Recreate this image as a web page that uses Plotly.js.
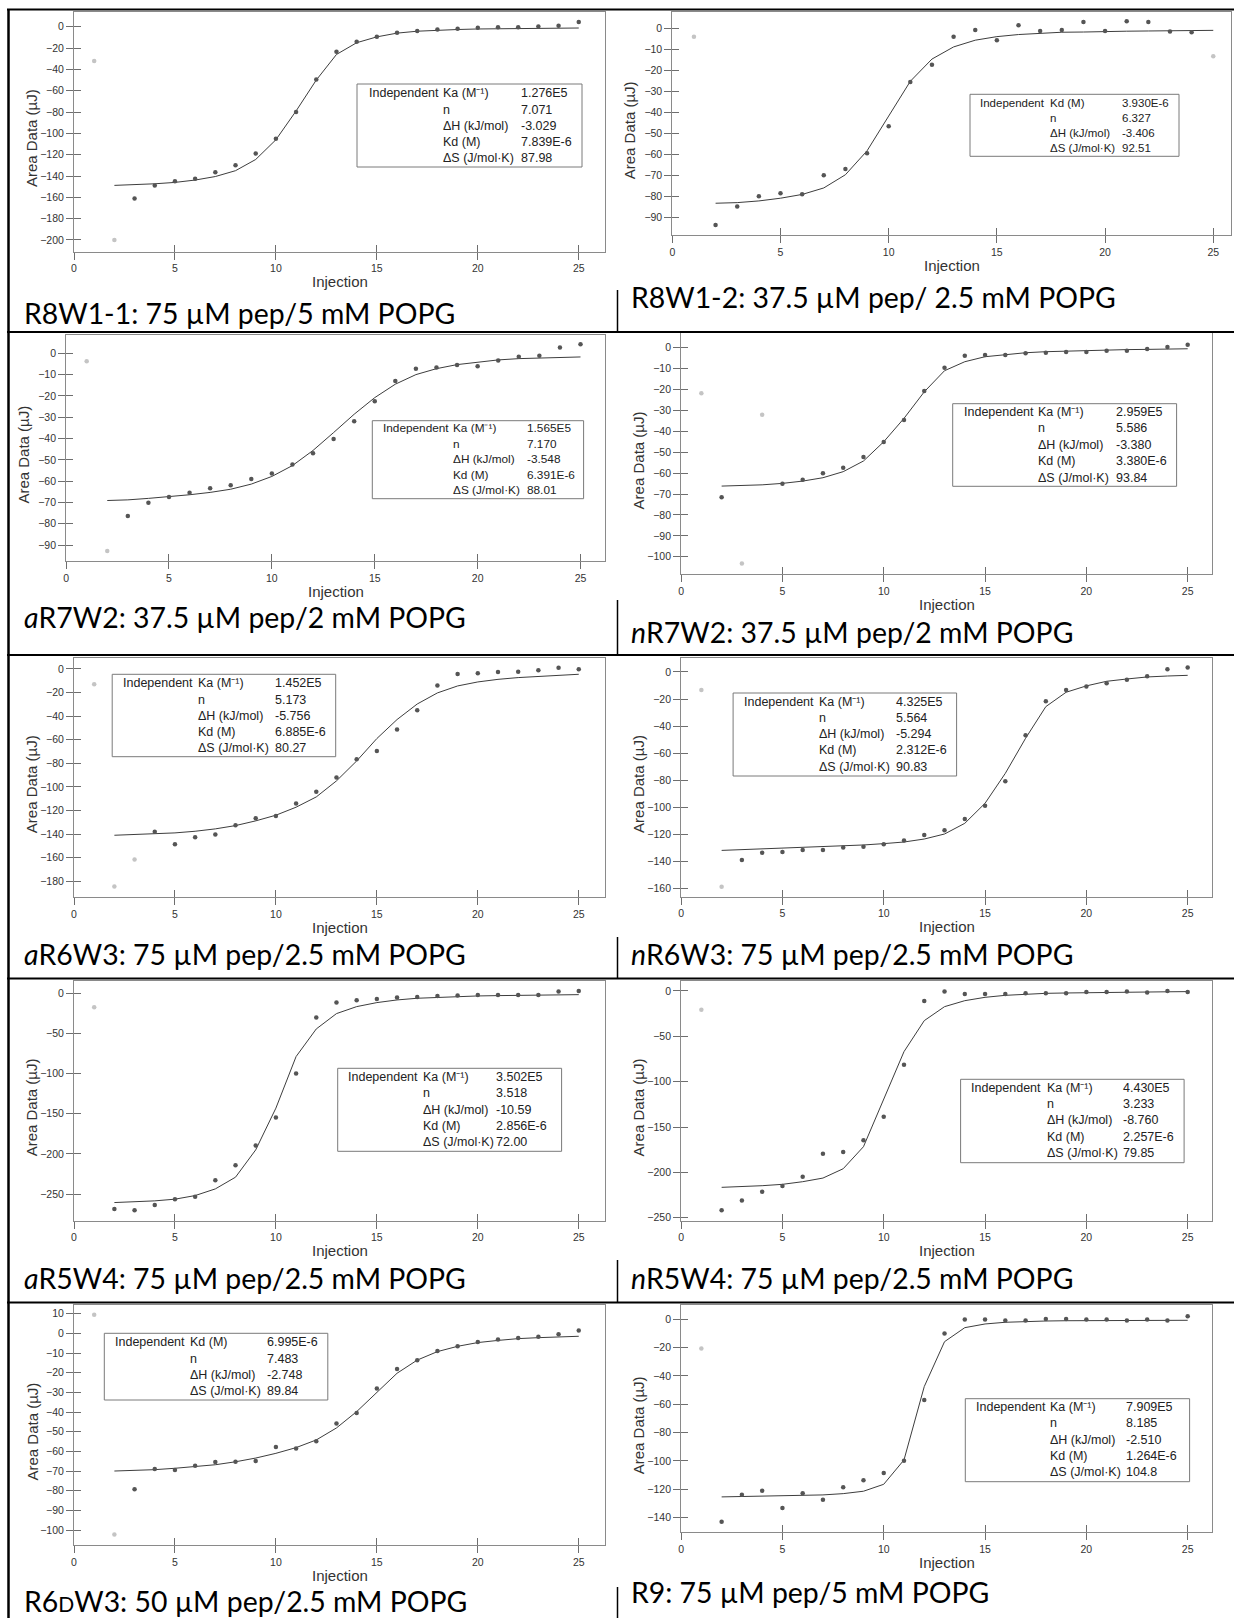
<!DOCTYPE html>
<html><head><meta charset="utf-8">
<script src="https://cdn.plot.ly/plotly-3.0.1.min.js"></script>
<style>html,body{margin:0;padding:0;background:#fff}#chart{width:1234px;height:1618px}</style>
</head><body><div id="chart"></div>
<script>
// ---------------- DATA ----------------
const injections = [1,2,3,4,5,6,7,8,9,10,11,12,13,14,15,16,17,18,19,20,21,22,23,24,25];
const fitInjections = [2,3,4,5,6,7,8,9,10,11,12,13,14,15,16,17,18,19,20,21,22,23,24,25];
const xTickVals = [0,5,10,15,20,25];

// R8W1-1
const r8w1a_area = [-32.2,-200,-161,-149,-145,-142.5,-136.5,-130,-119,-105,-80,-49.4,-23.4,-14,-9.4,-5.6,-4,-2.5,-1.9,-0.9,-0.6,-0.6,0.3,0.9,4.4];
const r8w1a_fit = [-148.8,-148.2,-147.3,-146,-143.8,-140.5,-135,-124.5,-106,-79,-50,-26,-15,-9.5,-6,-4.2,-3.2,-2.6,-2.1,-1.8,-1.6,-1.4,-1.3,-1.2];
const r8w1a_excluded = [1,2];
const r8w1a_labels = ["Ka (M⁻¹)","n","ΔH (kJ/mol)","Kd (M)","ΔS (J/mol·K)"];
const r8w1a_values = ["1.276E5","7.071","-3.029","7.839E-6","87.98"];

// R8W1-2
const r8w1b_area = [-3.8,-93.7,-84.8,-80,-78.5,-79,-70,-67,-59.4,-46.6,-25.4,-17.2,-3.8,-0.6,-5.5,1.6,-1.1,-0.6,3.2,-1.1,3.6,3.2,-1.4,-1.7,-13.1];
const r8w1b_fit = [-83.3,-83,-82.2,-80.9,-79.1,-76,-69.7,-58.3,-41.7,-25.1,-14.5,-8.7,-5.5,-3.8,-2.8,-2.2,-1.7,-1.6,-1.3,-1.2,-1.1,-1,-0.9,-0.8];
const r8w1b_excluded = [1,25];
const r8w1b_labels = ["Kd (M)","n","ΔH (kJ/mol)","ΔS (J/mol·K)"];
const r8w1b_values = ["3.930E-6","6.327","-3.406","92.51"];

// aR7W2
const ar7w2_area = [-3.75,-92.8,-76.4,-70.2,-67.5,-65.5,-63.3,-61.9,-59,-56.4,-52.2,-46.9,-40.2,-31.9,-22.5,-13,-7.2,-6.6,-5.5,-6.1,-3.4,-1.6,-1.1,2.7,4.2];
const ar7w2_fit = [-69.1,-68.8,-68.1,-67.3,-66.4,-65.3,-63.8,-61.4,-57.8,-52.7,-45.6,-37.2,-28.6,-20.8,-14.5,-10,-7.2,-5.3,-4.1,-3.1,-2.5,-2.2,-1.9,-1.7];
const ar7w2_excluded = [1,2];
const ar7w2_labels = ["Ka (M⁻¹)","n","ΔH (kJ/mol)","Kd (M)","ΔS (J/mol·K)"];
const ar7w2_values = ["1.565E5","7.170","-3.548","6.391E-6","88.01"];

// nR7W2
const nr7w2_area = [-21.8,-71.5,-103.2,-32.1,-65.1,-63.2,-60.1,-57.4,-52.3,-45.1,-34.6,-20.7,-9.6,-3.8,-3.5,-3.5,-2.7,-2.4,-2.1,-2.1,-1.4,-1.4,-0.6,0.3,1.4];
const nr7w2_fit = [-66.2,-66,-65.6,-64.9,-63.8,-62.2,-59.3,-54.2,-45,-33.8,-21.1,-11,-6.7,-4.3,-3.2,-2.4,-1.9,-1.6,-1.3,-1.1,-0.9,-0.8,-0.6,-0.5];
const nr7w2_excluded = [1,3,4];
const nr7w2_labels = ["Ka (M⁻¹)","n","ΔH (kJ/mol)","Kd (M)","ΔS (J/mol·K)"];
const nr7w2_values = ["2.959E5","5.586","-3.380","3.380E-6","93.84"];

// aR6W3
const ar6w3_area = [-13,-184.5,-161.6,-138,-148.6,-142.7,-140.4,-132.5,-126.6,-124.6,-114.1,-104,-92.1,-76.6,-69.5,-51.4,-35,-14.1,-4.2,-3.7,-2.5,-2.3,-1.1,1.1,-0.3];
const ar6w3_fit = [-141,-140.4,-139.5,-139,-137.6,-135.6,-132.8,-128.8,-124,-117.2,-108.5,-94.9,-78,-59,-42.9,-29.7,-20.3,-14.4,-11,-8.8,-7.3,-6.2,-5.4,-4.5];
const ar6w3_excluded = [1,2,3];
const ar6w3_labels = ["Ka (M⁻¹)","n","ΔH (kJ/mol)","Kd (M)","ΔS (J/mol·K)"];
const ar6w3_values = ["1.452E5","5.173","-5.756","6.885E-6","80.27"];

// nR6W3
const nr6w3_area = [-13.3,-158.6,-138.9,-133.5,-133,-131.5,-131.5,-129.6,-129.1,-127.3,-124.4,-120.4,-117,-108.6,-98.8,-80.8,-46.8,-21.7,-13.3,-10.8,-8.4,-5.7,-3.2,2,3.2];
const nr6w3_fit = [-131.8,-131.3,-130.8,-130.3,-129.8,-129.3,-128.6,-127.8,-126.8,-125.6,-123.4,-119.7,-111.8,-97,-74.9,-49,-25.6,-15,-10.3,-6.9,-5.2,-3.7,-3,-2.5];
const nr6w3_excluded = [1,2];
const nr6w3_labels = ["Ka (M⁻¹)","n","ΔH (kJ/mol)","Kd (M)","ΔS (J/mol·K)"];
const nr6w3_values = ["4.325E5","5.564","-5.294","2.312E-6","90.83"];

// aR5W4
const ar5w4_area = [-17.4,-268.5,-270.1,-263.5,-256.4,-253.5,-232.8,-214.1,-189.6,-154.8,-100,-30.3,-11.6,-8.7,-7.1,-5.4,-4.6,-3.3,-2.9,-2.1,-2.1,-2.1,-2.1,2.1,2.9];
const ar5w4_fit = [-260.6,-259.8,-258.5,-256.4,-251.9,-243.6,-229,-195,-143,-78.8,-44.4,-25.3,-16.6,-11.6,-8.3,-6.2,-5,-4.1,-3.3,-2.9,-2.5,-2.3,-2.1,-1.7];
const ar5w4_excluded = [1];
const ar5w4_labels = ["Ka (M⁻¹)","n","ΔH (kJ/mol)","Kd (M)","ΔS (J/mol·K)"];
const ar5w4_values = ["3.502E5","3.518","-10.59","2.856E-6","72.00"];

// nR5W4
const nr5w4_area = [-20.6,-241.9,-230.9,-221.3,-215.1,-204.8,-179.4,-177.6,-164.7,-138.6,-81.3,-11,-0.7,-3.3,-3.3,-3.3,-2.6,-2.6,-2.6,-1.1,-1.1,-0.7,-1.8,0,-1.1];
const nr5w4_fit = [-216.5,-215.8,-214.7,-213.2,-210.3,-206.3,-196,-171.7,-120.2,-66.9,-32.7,-17.3,-10.7,-7,-4.8,-3.3,-2.6,-2.2,-1.8,-1.5,-1.3,-1.1,-0.9,-0.7];
const nr5w4_excluded = [1];
const nr5w4_labels = ["Ka (M⁻¹)","n","ΔH (kJ/mol)","Kd (M)","ΔS (J/mol·K)"];
const nr5w4_values = ["4.430E5","3.233","-8.760","2.257E-6","79.85"];

// R6DW3
const r6dw3_area = [9.5,-102.2,-79.3,-69,-69.5,-67.3,-65.4,-65.3,-64.9,-57.8,-58.5,-54.9,-45.8,-40.5,-28.1,-18.1,-13.7,-9,-6.6,-4.4,-3.2,-2.4,-1.7,-0.5,1.4];
const r6dw3_fit = [-70,-69.8,-69.3,-68.6,-67.8,-66.8,-65.3,-63.4,-61,-58.1,-54.2,-48.1,-39.8,-30.2,-20.3,-13.6,-9.3,-6.6,-4.7,-3.6,-2.7,-2.2,-1.9,-1.5];
const r6dw3_excluded = [1,2];
const r6dw3_labels = ["Kd (M)","n","ΔH (kJ/mol)","ΔS (J/mol·K)"];
const r6dw3_values = ["6.995E-6","7.483","-2.748","89.84"];

// R9
const r9_area = [-20.7,-143,-123.8,-121,-133.2,-122.8,-127.5,-118.6,-113.6,-108.5,-99.8,-56.9,-10.1,-0.2,-0.2,-0.9,-0.9,0.2,0.2,-0.2,-0.2,-0.9,-0.2,-0.9,2.1];
const r9_fit = [-125.4,-125.2,-124.9,-124.7,-124.5,-124,-123.1,-121.4,-116.5,-99.3,-47.5,-15.8,-5.9,-3.3,-2.1,-1.4,-1.2,-1,-0.9,-0.8,-0.8,-0.7,-0.7,-0.7];
const r9_excluded = [1];
const r9_labels = ["Ka (M⁻¹)","n","ΔH (kJ/mol)","Kd (M)","ΔS (J/mol·K)"];
const r9_values = ["7.909E5","8.185","-2.510","1.264E-6","104.8"];

const captions = [
  "R8W1-1: 75 µM pep/5 mM POPG",
  "R8W1-2: 37.5 µM pep/ 2.5 mM POPG",
  "<i>a</i>R7W2: 37.5 µM pep/2 mM POPG",
  "<i>n</i>R7W2: 37.5 µM pep/2 mM POPG",
  "<i>a</i>R6W3: 75 µM pep/2.5 mM POPG",
  "<i>n</i>R6W3: 75 µM pep/2.5 mM POPG",
  "<i>a</i>R5W4: 75 µM pep/2.5 mM POPG",
  "<i>n</i>R5W4: 75 µM pep/2.5 mM POPG",
  "R6<span style=\"font-size:21px\">D</span>W3: 50 µM pep/2.5 mM POPG",
  "R9: 75 µM pep/5 mM POPG"
];

// ---------------- LAYOUT (pixel geometry) ----------------
const W = 1234, H = 1618;
const px = v => v / W;
const py = v => 1 - v / H;

const panels = [
  {area:r8w1a_area, fit:r8w1a_fit, excl:r8w1a_excluded, labels:r8w1a_labels, values:r8w1a_values,
   g:{xL:74, xR:605, yT:11.7, yB:251.5, xr:[0,26.3], yr:[-210.8,14.1], dt:20},
   box:{l:357, r:582, t:84, b:167, c1:368, c2:442, c3:519.5, r0:93.3, dy:16.25, fs:12.5}, cap:{x:22, y:313}},
  {area:r8w1b_area, fit:r8w1b_fit, excl:r8w1b_excluded, labels:r8w1b_labels, values:r8w1b_values,
   g:{xL:672.3, xR:1231, yT:11.7, yB:235.3, xr:[0,25.82], yr:[-98.6,8.1], dt:10},
   box:{l:970, r:1179, t:94.3, b:156.3, c1:979, c2:1049, c3:1121, r0:102.7, dy:15, fs:11.5}, cap:{x:629, y:297}},
  {area:ar7w2_area, fit:ar7w2_fit, excl:ar7w2_excluded, labels:ar7w2_labels, values:ar7w2_values,
   g:{xL:66.1, xR:605, yT:335, yB:561, xr:[0,26.19], yr:[-97.5,8.6], dt:10},
   box:{l:372.3, r:583.6, t:420.7, b:498.7, c1:381.7, c2:451.8, c3:525.5, r0:428.3, dy:15.4, fs:11.8}, cap:{x:22, y:617}},
  {area:nr7w2_area, fit:nr7w2_fit, excl:nr7w2_excluded, labels:nr7w2_labels, values:nr7w2_values,
   g:{xL:681.1, xR:1212, yT:333.3, yB:574.3, xr:[0,26.2], yr:[-108.4,6.9], dt:10},
   box:{l:952.7, r:1176.6, t:403.7, b:486.3, c1:962.5, c2:1037.3, c3:1115.2, r0:411.7, dy:16.5, fs:12.5}, cap:{x:629, y:631.5}},
  {area:ar6w3_area, fit:ar6w3_fit, excl:ar6w3_excluded, labels:ar6w3_labels, values:ar6w3_values,
   g:{xL:74, xR:605, yT:658, yB:897.3, xr:[0,26.3], yr:[-193.6,9.3], dt:20},
   box:{l:112.2, r:335.7, t:674.3, b:756.7, c1:122, c2:196.8, c3:273.5, r0:683.3, dy:16.25, fs:12.5}, cap:{x:22, y:954}},
  {area:nr6w3_area, fit:nr6w3_fit, excl:nr6w3_excluded, labels:nr6w3_labels, values:nr6w3_values,
   g:{xL:681.1, xR:1212, yT:658, yB:896.7, xr:[0,26.2], yr:[-166,10.3], dt:20},
   box:{l:733.1, r:956.6, t:693, b:776, c1:743, c2:817.7, c3:894.5, r0:701.7, dy:16.25, fs:12.5}, cap:{x:629, y:954}},
  {area:ar5w4_area, fit:ar5w4_fit, excl:ar5w4_excluded, labels:ar5w4_labels, values:ar5w4_values,
   g:{xL:74, xR:605, yT:981, yB:1220.7, xr:[0,26.3], yr:[-283.2,15.3], dt:50},
   box:{l:337.7, r:561.6, t:1068.3, b:1151.3, c1:347.1, c2:422.3, c3:495, r0:1076.7, dy:16.4, fs:12.5}, cap:{x:22, y:1278}},
  {area:nr5w4_area, fit:nr5w4_fit, excl:nr5w4_excluded, labels:nr5w4_labels, values:nr5w4_values,
   g:{xL:681.1, xR:1212, yT:981, yB:1220.7, xr:[0,26.2], yr:[-253.3,11], dt:50},
   box:{l:960.6, r:1184.1, t:1079.3, b:1162.7, c1:970.4, c2:1046, c3:1121.9, r0:1087.7, dy:16.3, fs:12.5}, cap:{x:629, y:1278}},
  {area:r6dw3_area, fit:r6dw3_fit, excl:r6dw3_excluded, labels:r6dw3_labels, values:r6dw3_values,
   g:{xL:74, xR:605, yT:1305, yB:1545, xr:[0,26.3], yr:[-107.6,14.4], dt:10},
   box:{l:104.3, r:327.8, t:1333.3, b:1400, c1:114.1, c2:188.9, c3:266.4, r0:1342.3, dy:16.3, fs:12.5}, cap:{x:22, y:1601}},
  {area:r9_area, fit:r9_fit, excl:r9_excluded, labels:r9_labels, values:r9_values,
   g:{xL:681.1, xR:1212, yT:1305, yB:1532.3, xr:[0,26.2], yr:[-150.4,10.1], dt:20},
   box:{l:965.3, r:1189.6, t:1398.7, b:1481.7, c1:975.1, c2:1048.7, c3:1124.7, r0:1406.7, dy:16.4, fs:12.5}, cap:{x:629, y:1592}}
];

const AX_FONT = "Liberation Sans, Arial, sans-serif";
const CAP_FONT = "Lato, Carlito, Calibri, sans-serif";
const LINE_C = "#8a8a8a", TICK_C = "#6e6e6e";

const traces = [];
const layout = {
  width: W, height: H, margin: {l:0, r:0, t:0, b:0},
  paper_bgcolor: "#ffffff", plot_bgcolor: "rgba(0,0,0,0)",
  showlegend: false, shapes: [], annotations: []
};

panels.forEach((p, i) => {
  const n = i + 1, sfx = n === 1 ? "" : String(n), o = String(n + 10);
  const g = p.g;
  const xDom = [px(g.xL), px(g.xR)], yDom = [py(g.yB), py(g.yT)];

  layout["xaxis" + sfx] = {
    domain: xDom, anchor: "y" + sfx, range: g.xr, tickvals: xTickVals,
    showline: true, linecolor: LINE_C, linewidth: 1, mirror: true,
    ticks: "outside", ticklen: 7, tickcolor: TICK_C, tickwidth: 1,
    showgrid: false, zeroline: false, fixedrange: true,
    tickfont: {family: AX_FONT, size: 10.5, color: "#333"}
  };
  layout["yaxis" + sfx] = {
    domain: yDom, anchor: "x" + sfx, range: g.yr, dtick: g.dt, tick0: 0,
    showline: true, linecolor: LINE_C, linewidth: 1, mirror: true,
    ticks: "outside", ticklen: 7, tickcolor: TICK_C, tickwidth: 1,
    showgrid: false, zeroline: false, fixedrange: true,
    tickfont: {family: AX_FONT, size: 10.5, color: "#333"}
  };
  // overlay axes: inner half of the crossing ticks
  layout["xaxis" + o] = {
    overlaying: "x" + sfx, anchor: "y" + o, range: g.xr, tickvals: xTickVals, side: "bottom",
    ticks: "inside", ticklen: 7, tickcolor: TICK_C, tickwidth: 1, showticklabels: false,
    showline: false, showgrid: false, zeroline: false, fixedrange: true
  };
  layout["yaxis" + o] = {
    overlaying: "y" + sfx, anchor: "x" + o, range: g.yr, dtick: g.dt, tick0: 0, side: "left",
    ticks: "inside", ticklen: 7, tickcolor: TICK_C, tickwidth: 1, showticklabels: false,
    showline: false, showgrid: false, zeroline: false, fixedrange: true
  };
  traces.push({type: "scatter", x: [], y: [], xaxis: "x" + o, yaxis: "y" + o, hoverinfo: "skip", showlegend: false});

  const incX = [], incY = [], exX = [], exY = [];
  injections.forEach((inj, k) => {
    if (p.excl.includes(inj)) { exX.push(inj); exY.push(p.area[k]); }
    else { incX.push(inj); incY.push(p.area[k]); }
  });
  traces.push({type: "scatter", mode: "lines", x: fitInjections, y: p.fit,
    xaxis: "x" + sfx, yaxis: "y" + sfx, line: {color: "#3d3d3d", width: 1}, hoverinfo: "skip"});
  traces.push({type: "scatter", mode: "markers", x: incX, y: incY,
    xaxis: "x" + sfx, yaxis: "y" + sfx, marker: {color: "#555555", size: 4.5}, hoverinfo: "skip"});
  traces.push({type: "scatter", mode: "markers", x: exX, y: exY,
    xaxis: "x" + sfx, yaxis: "y" + sfx, marker: {color: "#c4c4c4", size: 4.5}, hoverinfo: "skip"});

  // axis titles
  layout.annotations.push({xref: "paper", yref: "paper", x: px((g.xL + g.xR) / 2), y: py(g.yB + 30),
    xanchor: "center", yanchor: "middle", showarrow: false, text: "Injection",
    font: {family: AX_FONT, size: 15, color: "#333"}});
  layout.annotations.push({xref: "paper", yref: "paper", x: px(g.xL - 42.5), y: py((g.yT + g.yB) / 2 + 7),
    xanchor: "center", yanchor: "middle", showarrow: false, text: "Area Data (µJ)", textangle: -90,
    font: {family: AX_FONT, size: 15, color: "#333"}});

  // stats box
  const b = p.box;
  layout.shapes.push({type: "rect", xref: "paper", yref: "paper",
    x0: px(b.l), x1: px(b.r), y0: py(b.b), y1: py(b.t),
    line: {color: "#7a7a7a", width: 1}, fillcolor: "rgba(0,0,0,0)"});
  const sf = {family: AX_FONT, size: b.fs, color: "#222"};
  layout.annotations.push({xref: "paper", yref: "paper", x: px(b.c1), y: py(b.r0),
    xanchor: "left", yanchor: "middle", showarrow: false, text: "Independent", font: sf, borderpad: 0});
  p.labels.forEach((lab, k) => {
    layout.annotations.push({xref: "paper", yref: "paper", x: px(b.c2), y: py(b.r0 + k * b.dy),
      xanchor: "left", yanchor: "middle", showarrow: false, text: lab, font: sf, borderpad: 0});
    layout.annotations.push({xref: "paper", yref: "paper", x: px(b.c3), y: py(b.r0 + k * b.dy),
      xanchor: "left", yanchor: "middle", showarrow: false, text: p.values[k], font: sf, borderpad: 0});
  });

  // caption
  layout.annotations.push({xref: "paper", yref: "paper", x: px(p.cap.x), y: py(p.cap.y),
    xanchor: "left", yanchor: "middle", showarrow: false, text: captions[i],
    font: {family: CAP_FONT, size: 28.4, color: "#000"}});
});

// table lines
const ln = (x0, y0, x1, y1, w) => ({type: "line", xref: "paper", yref: "paper",
  x0: px(x0), y0: py(y0), x1: px(x1), y1: py(y1), line: {color: "#000", width: w}});
layout.shapes.push(ln(7, 9.5, 1234, 9.5, 2));
layout.shapes.push(ln(8.5, 9, 8.5, 1618, 2.5));
[332, 655, 978.5, 1302.5].forEach(y => layout.shapes.push(ln(7, y, 1234, y, 2)));
[[290, 332], [600, 655], [937, 978.5], [1260, 1302.5], [1587, 1618]].forEach(s =>
  layout.shapes.push(ln(617.5, s[0], 617.5, s[1], 1.5)));

Plotly.newPlot("chart", traces, layout, {staticPlot: true, displayModeBar: false});
</script></body></html>
